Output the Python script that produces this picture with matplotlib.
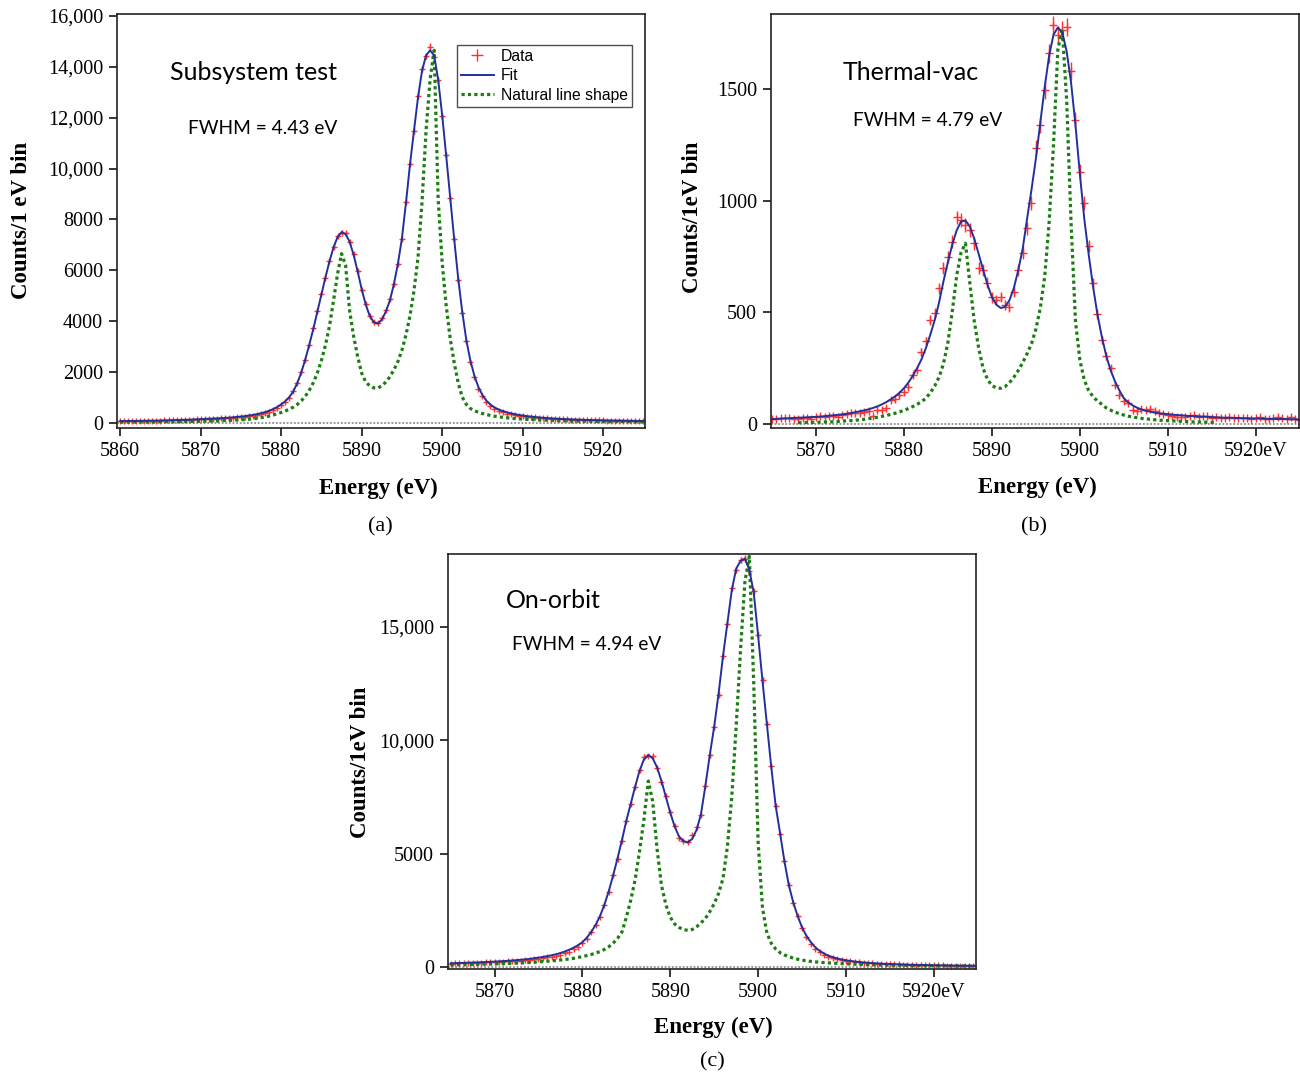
import numpy as np
import matplotlib
matplotlib.use("Agg")
import matplotlib.pyplot as plt
from matplotlib.lines import Line2D

plt.rcParams['font.family'] = ['Liberation Serif', 'DejaVu Serif']

RED = '#ff3030'
BLUE = '#22309a'
GREEN = '#1b7d12'
BIN = 0.5  # eV per point

# ---- (a) Subsystem test: points every 0.5 eV from 5860 eV ----
start_a = 5860.0
data_a = [
    58, 61, 63, 65, 68, 69, 71, 74, 77, 80,
    83, 87, 90, 95, 99, 103, 108, 114, 120, 127,
    135, 141, 148, 155, 162, 170, 178, 187, 196, 210,
    225, 238, 255, 276, 300, 335, 375, 420, 490, 570,
    690, 820, 990, 1230, 1570, 1990, 2480, 3070, 3720, 4400,
    5080, 5700, 6350, 6930, 7350, 7480, 7450, 7100, 6620, 5970,
    5230, 4680, 4180, 3960, 3920, 4100, 4420, 4850, 5440, 6260,
    7240, 8690, 10190, 11470, 12840, 13900, 14430, 14800, 14400, 13480,
    12070, 10540, 8830, 7220, 5600, 4330, 3200, 2400, 1800, 1330,
    1030, 800, 640, 530, 450, 400, 360, 330, 300, 275,
    252, 235, 220, 205, 192, 180, 170, 160, 151, 143,
    136, 129, 123, 117, 112, 107, 102, 98, 94, 90,
    87, 84, 81, 78, 75, 73, 71, 69, 67, 65,
    64,
]
fit_a = [
    60, 62, 64, 66, 68, 70, 72, 75, 78, 81,
    85, 88, 92, 96, 100, 105, 110, 116, 123, 131,
    140, 146, 153, 160, 168, 176, 185, 196, 208, 223,
    240, 258, 280, 305, 335, 372, 415, 468, 535, 615,
    720, 840, 1000, 1230, 1560, 1980, 2500, 3080, 3700, 4380,
    5050, 5720, 6350, 6900, 7300, 7500, 7420, 7120, 6600, 5950,
    5250, 4650, 4200, 3950, 3900, 4050, 4370, 4800, 5450, 6250,
    7250, 8650, 10150, 11500, 12800, 13850, 14450, 14650, 14450, 13500,
    12100, 10500, 8850, 7200, 5650, 4350, 3250, 2450, 1850, 1400,
    1090, 860, 710, 600, 520, 460, 410, 370, 335, 305,
    280, 258, 238, 221, 206, 193, 181, 170, 160, 151,
    143, 136, 129, 123, 117, 112, 107, 103, 99, 95,
    91, 88, 85, 82, 79, 77, 74, 72, 70, 68,
    66,
]
natural_a = [
    22, 23, 24, 25, 26, 27, 28, 29, 30, 31,
    33, 35, 37, 39, 41, 43, 45, 47, 49, 52,
    55, 58, 62, 66, 71, 76, 82, 88, 95, 102,
    110, 122, 136, 152, 172, 196, 224, 258, 300, 348,
    400, 460, 530, 610, 720, 860, 1040, 1280, 1580, 1960,
    2450, 3050, 3800, 4800, 5850, 6650, 6200, 4400, 3400, 2600,
    1950, 1600, 1450, 1370, 1360, 1450, 1600, 1800, 2080, 2400,
    2850, 3450, 4200, 5200, 6500, 8700, 11500, 13500, 14650, 8800,
    6300, 4600, 3300, 2350, 1550, 1000, 720, 560, 470, 410,
    360, 320, 285, 255, 230, 210, 192, 176, 162, 150,
    140, 130, 121, 113, 106, 100, 94, 89, 84, 80,
    76, 72, 69, 66, 63, 60, 58, 56, 54, 52,
    50, 48, 46, 45, 44, 42, 41, 40, 39, 38,
    37,
]

# ---- (b) Thermal-vac: points every 0.5 eV from 5865 eV ----
start_b = 5865.0
data_b = [
    22, 24, 27, 28, 27, 24, 22, 25, 28, 21,
    30, 37, 33, 37, 35, 33, 40, 45, 48, 51,
    48, 55, 60, 35, 63, 63, 73, 108, 111, 130,
    142, 167, 220, 242, 324, 372, 466, 496, 608, 698,
    747, 817, 926, 914, 892, 870, 810, 698, 690, 633,
    568, 556, 570, 533, 526, 593, 690, 768, 877, 992,
    1236, 1340, 1497, 1661, 1788, 1744, 1766, 1780, 1584, 1363,
    1131, 992, 798, 630, 492, 376, 305, 250, 175, 130,
    104, 93, 62, 58, 66, 62, 66, 58, 48, 45,
    40, 36, 30, 33, 30, 35, 40, 33, 35, 35,
    28, 30, 26, 27, 30, 26, 28, 25, 25, 22,
    25, 30, 24, 22, 26, 33, 25, 22, 30, 22,
    20,
]
fit_b = [
    22, 23, 24, 25, 26, 27, 28, 29, 30, 31,
    32, 33, 35, 37, 39, 41, 43, 46, 49, 53,
    57, 61, 66, 72, 79, 88, 98, 110, 124, 140,
    160, 185, 215, 250, 290, 340, 400, 465, 545, 640,
    725, 805, 868, 908, 912, 885, 830, 762, 692, 625,
    570, 535, 520, 525, 555, 610, 690, 785, 920, 1050,
    1190, 1350, 1510, 1650, 1745, 1778, 1755, 1670, 1530, 1340,
    1120, 920, 760, 615, 490, 390, 305, 240, 190, 150,
    115, 97, 83, 73, 65, 59, 55, 51, 48, 46,
    44, 42, 40, 39, 37, 36, 35, 34, 33, 32,
    31, 30, 29, 28, 28, 27, 27, 26, 26, 25,
    25, 24, 24, 23, 23, 22, 22, 22, 21, 21,
    21,
]
natural_start_b = 5868.0
natural_b = [
    6, 6, 7, 7, 8, 8, 9, 9, 10, 11,
    13, 14, 15, 17, 19, 21, 24, 27, 30, 34,
    38, 43, 48, 54, 61, 69, 78, 88, 100, 115,
    140, 170, 210, 270, 365, 505, 665, 770, 810, 630,
    460, 340, 250, 200, 172, 162, 160, 168, 185, 210,
    240, 275, 315, 360, 425, 520, 660, 900, 1250, 1680,
    1770, 1450, 900, 460, 287, 197, 150, 122, 103, 88,
    72, 62, 53, 46, 40, 35, 31, 28, 25, 23,
    21, 19, 17, 16, 15, 14, 13, 12, 11, 10,
    9, 9, 8, 8, 7, 7,
]

# ---- (c) On-orbit: points every 0.5 eV from 5865 eV ----
start_c = 5865.0
data_c = [
    160, 165, 170, 176, 182, 188, 195, 202, 209, 217,
    225, 234, 244, 255, 267, 280, 294, 310, 328, 348,
    372, 398, 428, 462, 502, 550, 610, 680, 780, 900,
    1050, 1260, 1530, 1840, 2230, 2730, 3330, 4040, 4780, 5580,
    6430, 7200, 7950, 8680, 9280, 9310, 9300, 8760, 8150, 7520,
    6820, 6230, 5680, 5560, 5520, 5820, 6160, 6700, 8000, 9330,
    10560, 12000, 13720, 15100, 16700, 17500, 17950, 18000, 17450, 16550,
    14650, 12650, 10720, 8850, 7080, 5880, 4690, 3640, 2830, 2240,
    1720, 1340, 1000, 800, 650, 545, 465, 405, 355, 315,
    285, 258, 236, 216, 199, 185, 172, 161, 151, 142,
    134, 127, 120, 114, 108, 103, 98, 94, 90, 86,
    82, 79, 76, 73, 70, 68, 66, 63, 61, 59,
    58,
]
fit_c = [
    170, 176, 183, 190, 197, 204, 211, 219, 227, 236,
    245, 256, 268, 281, 295, 310, 326, 345, 368, 393,
    420, 450, 485, 525, 570, 625, 690, 770, 860, 970,
    1100, 1300, 1550, 1860, 2250, 2750, 3350, 4050, 4800, 5600,
    6450, 7200, 7950, 8650, 9150, 9350, 9200, 8800, 8200, 7500,
    6800, 6200, 5750, 5550, 5500, 5650, 6050, 6750, 8000, 9350,
    10600, 12050, 13700, 15150, 16600, 17550, 17900, 18000, 17500, 16500,
    14600, 12600, 10700, 8800, 7100, 5900, 4650, 3600, 2850, 2250,
    1750, 1380, 1100, 880, 720, 600, 510, 440, 385, 340,
    305, 275, 250, 228, 210, 194, 180, 168, 157, 147,
    139, 131, 124, 117, 111, 106, 101, 96, 92, 88,
    84, 81, 78, 75, 72, 70, 67, 65, 63, 61,
    59,
]
natural_c = [
    100, 104, 108, 112, 116, 120, 125, 130, 135, 140,
    146, 152, 158, 165, 172, 180, 188, 197, 206, 216,
    235, 248, 262, 278, 296, 316, 338, 362, 390, 428,
    470, 510, 560, 620, 690, 780, 900, 1060, 1270, 1550,
    2200, 2950, 3850, 5100, 6500, 8200, 7300, 5200, 3600, 2750,
    2200, 1900, 1750, 1660, 1620, 1660, 1780, 1950, 2150, 2450,
    2800, 3250, 3900, 5300, 7500, 10600, 14000, 17000, 18100, 12500,
    5500, 2600, 1500, 1050, 800, 640, 540, 460, 400, 350,
    310, 280, 255, 235, 218, 203, 190, 178, 167, 157,
    148, 140, 133, 126, 120, 114, 109, 104, 100, 96,
    92, 88, 85, 82, 79, 76, 73, 71, 69, 67,
    65, 63, 61, 59, 57, 56, 54, 53, 52, 50,
    49,
]

xticks_a = [5860, 5870, 5880, 5890, 5900, 5910, 5920]
xlabels_a = ['5860', '5870', '5880', '5890', '5900', '5910', '5920']
xticks_bc = [5870, 5880, 5890, 5900, 5910, 5920]
xlabels_bc = ['5870', '5880', '5890', '5900', '5910', '5920eV']
yticks_a = [0, 2000, 4000, 6000, 8000, 10000, 12000, 14000, 16000]
ylabels_a = ['0', '2000', '4000', '6000', '8000', '10,000', '12,000', '14,000', '16,000']
yticks_b = [0, 500, 1000, 1500]
ylabels_b = ['0', '500', '1000', '1500']
yticks_c = [0, 5000, 10000, 15000]
ylabels_c = ['0', '5000', '10,000', '15,000']

W, H = 1300, 1079
fig = plt.figure(figsize=(W / 100, H / 100), dpi=100)


def px_axes(left, top, right, bottom):
    return fig.add_axes([left / W, 1 - bottom / H, (right - left) / W, (bottom - top) / H])


def ftext(x, y, s, **kw):
    fig.text(x / W, 1 - y / H, s, **kw)


def energies(start, values):
    return start + BIN * np.arange(len(values))


def draw_panel(ax, start, data, fit, nat_start, natural, ms):
    ax.axhline(0, color='#8c8c8c', lw=1.3, ls=(0, (1, 1)), zorder=1)
    ax.errorbar(energies(start, data), data, yerr=np.sqrt(data), fmt='+', color=RED,
                ms=ms, mew=1.0, elinewidth=1.0, capsize=0, zorder=2)
    ax.plot(energies(nat_start, natural), natural, color=GREEN, lw=2.3,
            ls=(0, (1.0, 1.0)), zorder=3)
    ax.plot(energies(start, fit), fit, color=BLUE, lw=1.4, zorder=4)
    for sp in ax.spines.values():
        sp.set_color('#222222')
        sp.set_linewidth(1.2)
    ax.tick_params(direction='out', length=6, width=1.1, labelsize=14.5, pad=4,
                   top=False, right=False)


sans = ['Lato', 'DejaVu Sans']

# (a)
ax_a = px_axes(117, 14, 645, 428)
draw_panel(ax_a, start_a, data_a, fit_a, start_a, natural_a, 5)
ax_a.set_xlim(5859.6, 5925.2)
ax_a.set_ylim(-210, 16080)
ax_a.set_xticks(xticks_a, xlabels_a)
ax_a.set_yticks(yticks_a, ylabels_a)
handles = [
    Line2D([], [], color=RED, marker='+', ls='none', ms=9, mew=1.0),
    Line2D([], [], color=BLUE, lw=1.4),
    Line2D([], [], color=GREEN, lw=2.3, ls=(0, (1.0, 1.0))),
]
leg = ax_a.legend(handles, ['Data', 'Fit', 'Natural line shape'],
                  loc='upper left', bbox_to_anchor=(457 / W, 1 - 45 / H),
                  bbox_transform=fig.transFigure, borderaxespad=0,
                  prop={'family': ['Liberation Sans', 'DejaVu Sans'], 'size': 11.3},
                  frameon=True, fancybox=False, edgecolor='#222222',
                  handlelength=2.1, handletextpad=0.45, labelspacing=0.28,
                  borderpad=0.25)
leg.get_frame().set_linewidth(1.0)
ftext(170, 72, 'Subsystem test', family=sans, size=18, va='center', ha='left')
ftext(188, 128, 'FWHM = 4.43 eV', family=sans, size=13.8, va='center', ha='left')

# (b)
ax_b = px_axes(771, 14, 1299, 428)
draw_panel(ax_b, start_b, data_b, fit_b, natural_start_b, natural_b, 6)
ax_b.set_xlim(5864.9, 5924.9)
ax_b.set_ylim(-18, 1838)
ax_b.set_xticks(xticks_bc, xlabels_bc)
ax_b.set_yticks(yticks_b, ylabels_b)
ftext(843, 72, 'Thermal-vac', family=sans, size=18, va='center', ha='left')
ftext(853, 120, 'FWHM = 4.79 eV', family=sans, size=13.8, va='center', ha='left')

# (c)
ax_c = px_axes(448, 554, 976, 969)
draw_panel(ax_c, start_c, data_c, fit_c, start_c, natural_c, 5)
ax_c.set_xlim(5864.7, 5924.8)
ax_c.set_ylim(-80, 18200)
ax_c.set_xticks(xticks_bc, xlabels_bc)
ax_c.set_yticks(yticks_c, ylabels_c)
ftext(506, 600, 'On-orbit', family=sans, size=18, va='center', ha='left')
ftext(512, 645, 'FWHM = 4.94 eV', family=sans, size=13.8, va='center', ha='left')

# axis titles and captions
lab = dict(size=16.5, weight='bold', ha='center', va='center')
ftext(378, 488, 'Energy (eV)', **lab)
ftext(1037, 487, 'Energy (eV)', **lab)
ftext(713, 1027, 'Energy (eV)', **lab)
ftext(22, 220, 'Counts/1 eV bin', rotation=90, **lab)
ftext(693, 217, 'Counts/1eV bin', rotation=90, **lab)
ftext(360, 762, 'Counts/1eV bin', rotation=90, **lab)
cap = dict(size=16, ha='center', va='center')
ftext(380, 527, '(a)', **cap)
ftext(1034, 527, '(b)', **cap)
ftext(712, 1062, '(c)', **cap)

fig.savefig('out.png', dpi=100)
